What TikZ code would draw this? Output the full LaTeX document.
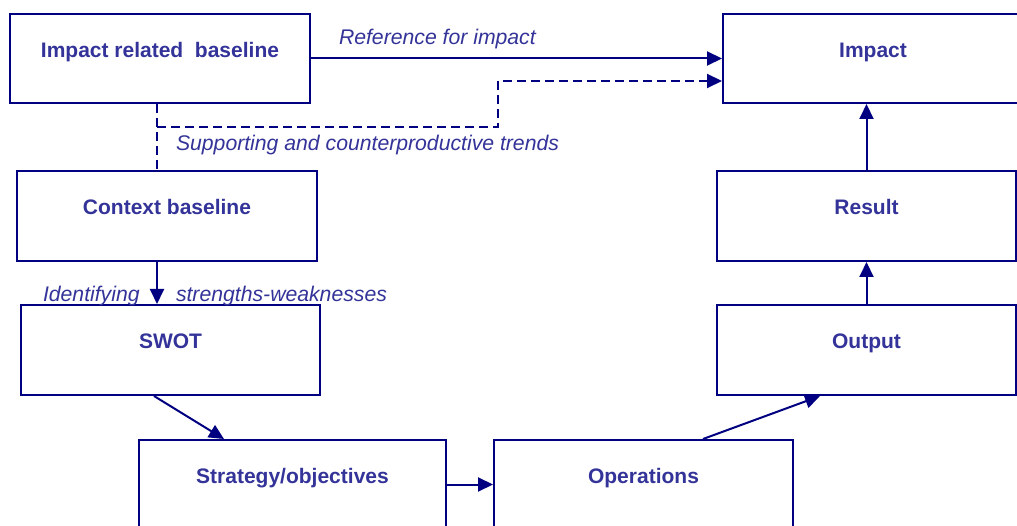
\documentclass[tikz,border=0pt]{standalone}
\usepackage{fontspec}
\setmainfont{Liberation Sans}
\usetikzlibrary{arrows.meta}
\definecolor{linenavy}{HTML}{000080}
\definecolor{textnavy}{HTML}{333399}
\begin{document}
\begin{tikzpicture}[x=1pt, y=-1pt, line width=2pt, draw=linenavy,
        stage/.style={draw=linenavy, rectangle, minimum width=300pt, minimum height=90pt,
                      inner sep=0pt, text=textnavy, font=\fontsize{21}{24}\selectfont\bfseries,
                      text height=17pt, text depth=19.4pt},
        flow/.style={draw=linenavy, -{Triangle[length=15pt,width=14pt]}},
        trend/.style={draw=linenavy, dash pattern=on 9pt off 5pt},
        note/.style={text=textnavy, font=\fontsize{21.2}{24}\selectfont\itshape, inner sep=0pt}]
        \path[use as bounding box, clip] (0,0) rectangle (1017,526);
        \node[stage, minimum height=89pt] (base) at (160,58.5) {Impact related\ \ baseline};
        \node[stage, minimum height=89pt] (impact) at (873,58.5) {Impact};
        \node[stage] (context) at (167,216) {Context baseline};
        \node[stage, minimum width=299pt] (swot) at (170.5,350) {SWOT};
        \node[stage, minimum width=299pt] (result) at (866.5,216) {Result};
        \node[stage, minimum width=299pt] (output) at (866.5,350) {Output};
        \node[stage, minimum width=307pt, minimum height=89pt] (strat) at (292.5,484.5) {Strategy/objectives};
        \node[stage, minimum width=299pt, minimum height=89pt] (ops) at (643.5,484.5) {Operations};
        \draw[flow] (base.east) -- (impact.west);
        \node[note, anchor=base west] (refimp) at (338,45) {Reference for impact};
        \draw[trend] ([xshift=-3pt]base.south) -- ([xshift=-3pt]base.south |- context.north);
        \draw[trend, -{Triangle[length=15pt,width=14pt]}] ([xshift=-3pt]base.south) ++(0,23) -| (498,81)
            -- (impact.west |- 0,81);
        \node[note, anchor=base west] (trends) at (175,151) {Supporting and counterproductive trends};
        \draw[flow] ([xshift=-10pt]context.south) -- ([xshift=-10pt]context.south |- swot.north);
        \node[note, anchor=base west] (ident) at (42,302) {Identifying};
        \node[note, anchor=base west] (strw) at (175,302) {strengths-weaknesses};
        \draw[flow] ([xshift=-16.5pt]swot.south) -- ([xshift=-68.5pt]strat.north);
        \draw[flow] (strat.east) -- (ops.west);
        \draw[flow] ([xshift=59.5pt]ops.north) -- ([xshift=-46.5pt]output.south);
        \draw[flow] (output.north) -- (result.south);
        \draw[flow] (result.north) -- (result.north |- impact.south);
    \end{tikzpicture}
\end{document}
